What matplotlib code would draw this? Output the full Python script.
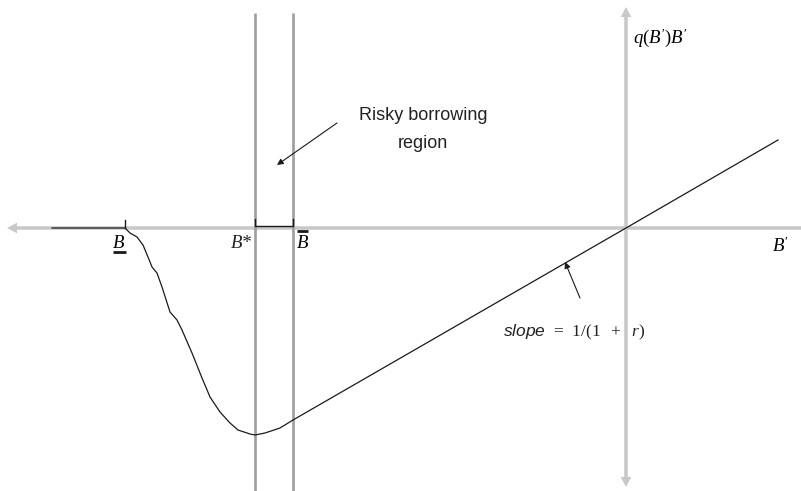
import matplotlib
matplotlib.use('Agg')
import matplotlib.pyplot as plt


# key borrowing levels on the B' axis (vertical axis sits at B' = 0)
B_LOW = -5.01
B_STAR = -3.71
B_BAR = -3.33
X_LEFT = -5.74

# q(B')B' schedule
curve_x = [X_LEFT, B_LOW, -4.96, -4.89, -4.83, -4.78, -4.74, -4.69, -4.64,
           -4.56, -4.49, -4.44, -4.34, -4.24, -4.16, -4.06, -3.96, -3.88,
           -3.76, B_STAR, -3.61, -3.46, B_BAR, 0.0, 1.52]
curve_y = [0.0, 0.0, -0.05, -0.09, -0.17, -0.29, -0.39, -0.45, -0.59,
           -0.84, -0.92, -1.02, -1.25, -1.50, -1.69, -1.84, -1.95, -2.02,
           -2.06, -2.07, -2.05, -2.00, -1.92, 0.0, 0.88]

AXIS_GRAY = '#c8c8ca'
LINE_GRAY = '#9e9e9e'

plt.rcParams['mathtext.fontset'] = 'custom'
plt.rcParams['mathtext.rm'] = 'Liberation Serif'
plt.rcParams['mathtext.it'] = 'Liberation Serif:italic'
plt.rcParams['mathtext.sf'] = 'Liberation Sans:italic'

fig = plt.figure(figsize=(8.01, 4.91), dpi=100)
ax = fig.add_axes([0, 0, 1, 1])
ax.set_xlim(-6.26, 1.75)
ax.set_ylim(-2.63, 2.28)
ax.axis('off')

# axes with arrow heads
arrow_kw = dict(width=0.035, head_width=0.105, head_length=0.10,
                length_includes_head=True, color=AXIS_GRAY, lw=0, zorder=1)
ax.arrow(1.75, 0, -7.94, 0, **arrow_kw)
ax.arrow(0, 0, 0, 2.21, **arrow_kw)
ax.arrow(0, 0, 0, -2.59, **arrow_kw)

# risky borrowing region bounds
for xv in (B_STAR, B_BAR):
    ax.plot([xv, xv], [-2.63, 2.15], color=LINE_GRAY, lw=1.9, zorder=2,
            solid_capstyle='butt')

ax.plot(curve_x, curve_y, color='#1a1a1a', lw=0.9, zorder=3)

# bracket over the region and tick at B underbar
ax.plot([B_STAR, B_STAR, B_BAR, B_BAR], [0.09, 0.02, 0.02, 0.09],
        color='#1a1a1a', lw=1.0, zorder=3)
ax.plot([B_LOW, B_LOW], [0.0, 0.08], color='#1a1a1a', lw=1.0, zorder=3)

serif = 13.5
ax.text(-5.07, -0.20, '$B$', fontsize=serif, ha='center', va='baseline')
ax.plot([-5.13, -5.0], [-0.235, -0.235], color='#1a1a1a', lw=2.0,
        solid_capstyle='butt')
ax.text(-3.74, -0.20, 'B*', fontsize=serif, family='Liberation Serif',
        style='italic', ha='right', va='baseline', color='#222222')
ax.text(-3.235, -0.20, '$B$', fontsize=serif, ha='center', va='baseline')
ax.plot([-3.29, -3.18], [-0.03, -0.03], color='#1a1a1a', lw=2.0,
        solid_capstyle='butt')
ax.text(0.07, 1.85, "$q(B')B'$", fontsize=serif, ha='left', va='baseline')
ax.text(1.46, -0.24, "$B'$", fontsize=serif, ha='left', va='baseline')

ax.text(-2.03, 1.08, 'Risky borrowing', fontsize=13,
        family='Liberation Sans', ha='center', va='baseline', color='#222222')
ax.text(-2.03, 0.80, 'region', fontsize=13,
        family='Liberation Sans', ha='center', va='baseline', color='#222222')
ax.annotate('', xy=(-3.49, 0.63), xytext=(-2.89, 1.05),
            arrowprops=dict(arrowstyle='-|>', color='#1a1a1a', lw=0.8,
                            mutation_scale=9, shrinkA=0, shrinkB=0))

ax.text(-1.23, -1.08, r'$\mathsf{slope}\ \,=\ \,1/(1\ \ +\ \ r)$',
        fontsize=12.5, ha='left', va='baseline', color='#222222')
ax.annotate('', xy=(-0.61, -0.34), xytext=(-0.46, -0.70),
            arrowprops=dict(arrowstyle='-|>', color='#1a1a1a', lw=0.8,
                            mutation_scale=9, shrinkA=0, shrinkB=0))

fig.savefig('out.png', dpi=100, facecolor='white')
